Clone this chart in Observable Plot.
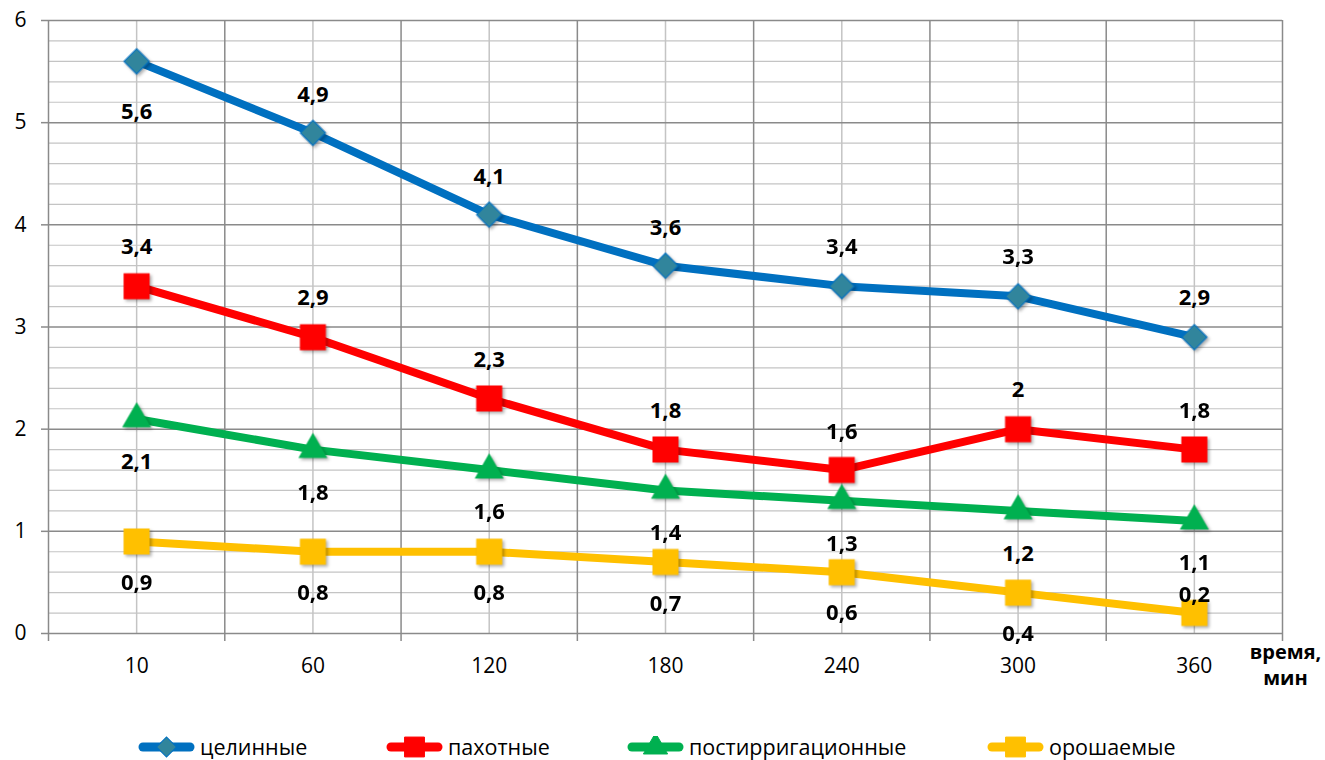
<!DOCTYPE html>
<html><head><meta charset="utf-8">
<script src="https://cdn.jsdelivr.net/npm/d3@7"></script>
<script src="https://cdn.jsdelivr.net/npm/@observablehq/plot@0.6"></script>
<style>
body{margin:0;background:#fff;font-family:"Open Sans",sans-serif;}
#wrap{position:relative;width:1325px;height:760px;overflow:hidden;}
#legend{position:absolute;top:736px;left:0;width:1325px;height:22px;}
.item{position:absolute;top:0;height:22px;display:flex;align-items:center;font-size:21.5px;line-height:22px;color:#000;white-space:nowrap;}
.item svg{display:block;margin-right:5px;}
</style></head><body><div id="wrap"><div id="chart"></div><div id="legend"></div></div>
<script>
// ---- data ----
const categories = ["10", "60", "120", "180", "240", "300", "360"];
const seriesNames = ["целинные", "пахотные", "постирригационные", "орошаемые"];
const tselinnye = [5.6, 4.9, 4.1, 3.6, 3.4, 3.3, 2.9];
const pakhotnye = [3.4, 2.9, 2.3, 1.8, 1.6, 2, 1.8];
const postirrigatsionnye = [2.1, 1.8, 1.6, 1.4, 1.3, 1.2, 1.1];
const oroshaemye = [0.9, 0.8, 0.8, 0.7, 0.6, 0.4, 0.2];
const yTicks = [0, 1, 2, 3, 4, 5, 6];
const axisTitle = "время,\nмин";

// ---- style (label placement offsets in px, colors, symbols) ----
const labelDy = [
  [51, -38, -38, -38, -39, -39, -39],
  [-39, -39, -39, -39, -38, -39, -39],
  [43, 43, 42, 42, 43, 43, 42],
  [41, 41, 41, 42, 41, 41, -18]
];
const seriesStyle = [
  {stroke: "#0070C0", fill: "#31859C", mstroke: "#0070C0", symbol: "square", r: 10, rotate: 45},
  {stroke: "#FF0000", fill: "#FF0000", mstroke: "#FF0000", symbol: "square", r: 14, rotate: 0},
  {stroke: "#00B050", fill: "#00B050", mstroke: "#00B050", symbol: "triangle", r: 10, rotate: 0},
  {stroke: "#FFC000", fill: "#FFC000", mstroke: "#FFC000", symbol: "square", r: 14, rotate: 0}
];
const seriesValues = [tselinnye, pakhotnye, postirrigatsionnye, oroshaemye];

const idx = categories.map((c, i) => i);
const boundaries = [...idx.map(i => i - 0.5), categories.length - 0.5];
const minorY = d3.range(0, 6.001, 0.2).filter(v => Math.abs(v - Math.round(v)) > 1e-6);
const fmt = v => String(v).replace(".", ",");

const marks = [
  Plot.ruleY(minorY, {stroke: "#c4c4c4", strokeWidth: 1.2}),
  Plot.ruleX(idx, {stroke: "#c4c4c4", strokeWidth: 1.5}),
  Plot.ruleY(yTicks, {stroke: "#8a8a8a", strokeWidth: 1.5}),
  Plot.ruleX(boundaries, {stroke: "#8a8a8a", strokeWidth: 1.5}),
  Plot.axisY({ticks: yTicks, label: null, tickSize: 7, tickPadding: 15, fontSize: 21, stroke: "#8a8a8a", strokeWidth: 1.5, color: "#000", tickFormat: d => String(d)}),
  Plot.axisX({ticks: boundaries, label: null, tickSize: 8, stroke: "#8a8a8a", strokeWidth: 1.5, tickFormat: () => ""}),
  Plot.axisX({ticks: idx, label: null, tickSize: 0, tickPadding: 25, fontSize: 21, color: "#000", tickFormat: i => categories[i]})
];

seriesValues.forEach((vals, s) => {
  const st = seriesStyle[s];
  const rows = vals.map((v, i) => ({i, v}));
  marks.push(Plot.line(rows, {x: "i", y: "v", stroke: st.stroke, strokeWidth: 8, strokeLinejoin: "round"}));
});
seriesValues.forEach((vals, s) => {
  const st = seriesStyle[s];
  const rows = vals.map((v, i) => ({i, v}));
  marks.push(Plot.dot(rows, {x: "i", y: "v", symbol: st.symbol, r: st.r, rotate: st.rotate, fill: st.fill, stroke: st.mstroke, strokeWidth: 1.2}));
});
seriesValues.forEach((vals, s) => {
  vals.forEach((v, i) => {
    marks.push(Plot.text([{i, v}], {x: "i", y: "v", text: d => fmt(d.v), dy: labelDy[s][i], fontSize: 22, fontWeight: "bold", fill: "#000"}));
  });
});
marks.push(Plot.text([axisTitle], {x: () => categories.length - 0.5, y: () => 0, text: d => d, dx: 3, dy: 7, lineAnchor: "top", lineHeight: 1.3, textAnchor: "middle", fontSize: 20, fontWeight: "bold", fill: "#000"}));

const chart = Plot.plot({
  width: 1325,
  height: 700,
  marginLeft: 48,
  marginRight: 43,
  marginTop: 20,
  marginBottom: 67,
  style: {fontFamily: "'Open Sans', sans-serif", background: "#fff", overflow: "visible"},
  x: {type: "linear", domain: [-0.5, categories.length - 0.5], axis: null},
  y: {domain: [0, 6], axis: null},
  marks
});
document.getElementById("chart").appendChild(chart);
d3.select(chart).selectAll('g[aria-label="dot"]').style("filter", "drop-shadow(2px 2px 1.5px rgba(0,0,0,0.3))");

// ---- legend ----
const legendLefts = [138, 386, 627, 987];
const legend = d3.select("#legend");
seriesNames.forEach((name, s) => {
  const st = seriesStyle[s];
  const item = legend.append("div").attr("class", "item").style("left", legendLefts[s] + "px");
  const svg = item.append("svg").attr("width", 57).attr("height", 22);
  svg.append("line").attr("x1", 5).attr("x2", 52).attr("y1", 11).attr("y2", 11)
    .attr("stroke", st.stroke).attr("stroke-width", 9).attr("stroke-linecap", "round");
  const sym = st.symbol === "triangle" ? d3.symbolTriangle : d3.symbolSquare;
  const size = st.symbol === "triangle" ? Math.PI * 9 * 9 : Math.PI * (st.r * 0.8) ** 2;
  svg.append("path").attr("d", d3.symbol(sym, size)())
    .attr("transform", `translate(28.5,11) rotate(${st.rotate})`)
    .attr("fill", st.fill).attr("stroke", st.mstroke).attr("stroke-width", 1);
  item.append("span").text(name);
});
</script>
</body></html>
